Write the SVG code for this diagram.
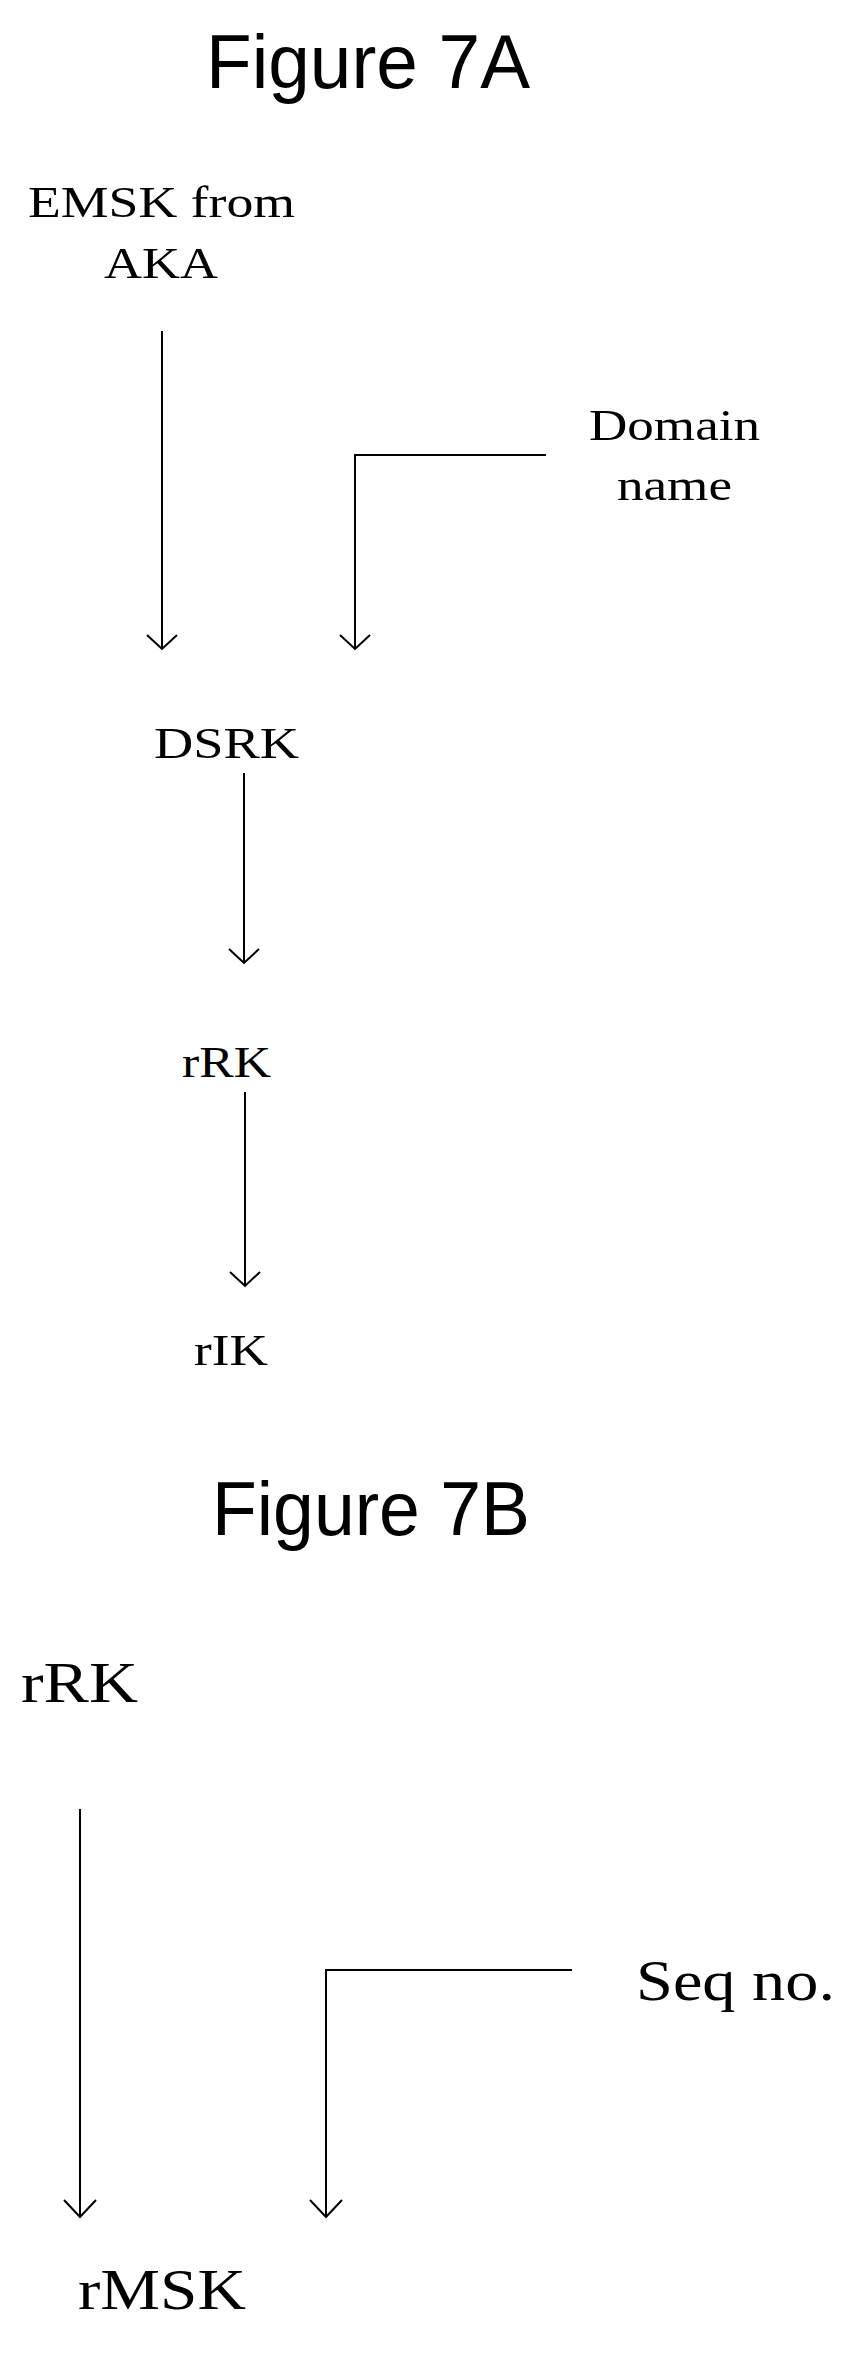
<svg xmlns="http://www.w3.org/2000/svg" width="846" height="2379" viewBox="0 0 846 2379">
<style>
.t{font-family:"Liberation Sans",Arial,sans-serif;font-size:76px;fill:#000}
.s{font-family:"Liberation Serif","Times New Roman",serif;font-size:44px;fill:#000}
.b{font-family:"Liberation Serif","Times New Roman",serif;font-size:58px;fill:#000}
.c{fill:none;stroke:#000;stroke-width:2}
</style>
<text class="t" x="206" y="88" textLength="324" lengthAdjust="spacingAndGlyphs">Figure 7A</text>
<g id="emsk"><text class="s" x="28" y="217" textLength="267" lengthAdjust="spacingAndGlyphs">EMSK from</text><text class="s" x="104" y="278" textLength="114" lengthAdjust="spacingAndGlyphs">AKA</text></g>
<g id="domain"><text class="s" x="589" y="440" textLength="171" lengthAdjust="spacingAndGlyphs">Domain</text><text class="s" x="617" y="500" textLength="115" lengthAdjust="spacingAndGlyphs">name</text></g>
<g id="dsrk"><text class="s" x="154" y="758" textLength="145" lengthAdjust="spacingAndGlyphs">DSRK</text></g>
<g id="rrk"><text class="s" x="182" y="1077" textLength="89" lengthAdjust="spacingAndGlyphs">rRK</text></g>
<g id="rik"><text class="s" x="194" y="1365" textLength="74" lengthAdjust="spacingAndGlyphs">rIK</text></g>
<text class="t" x="212" y="1535" textLength="318" lengthAdjust="spacingAndGlyphs">Figure 7B</text>
<g id="rrk2"><text class="b" x="21" y="1702" textLength="117" lengthAdjust="spacingAndGlyphs">rRK</text></g>
<g id="seq"><text class="b" x="636" y="2000" textLength="199" lengthAdjust="spacingAndGlyphs">Seq no.</text></g>
<g id="rmsk"><text class="b" x="78" y="2309" textLength="168" lengthAdjust="spacingAndGlyphs">rMSK</text></g>
<g id="connectors">
<path class="c" d="M162,331 V649"/><path d="M147,635 L162,649 L177,635" class="c"/>
<path class="c" d="M546,455 H355 V649"/><path d="M340,635 L355,649 L370,635" class="c"/>
<path class="c" d="M244,773 V963"/><path d="M229,949 L244,963 L259,949" class="c"/>
<path class="c" d="M245,1092 V1286"/><path d="M230,1272 L245,1286 L260,1272" class="c"/>
<path class="c" d="M80,1809 V2217" stroke-width="3"/><path d="M64,2200 L80,2217 L96,2200" class="c"/>
<path class="c" d="M572,1970 H326 V2217" stroke-width="3"/><path d="M310,2200 L326,2217 L342,2200" class="c"/>
</g>
</svg>
